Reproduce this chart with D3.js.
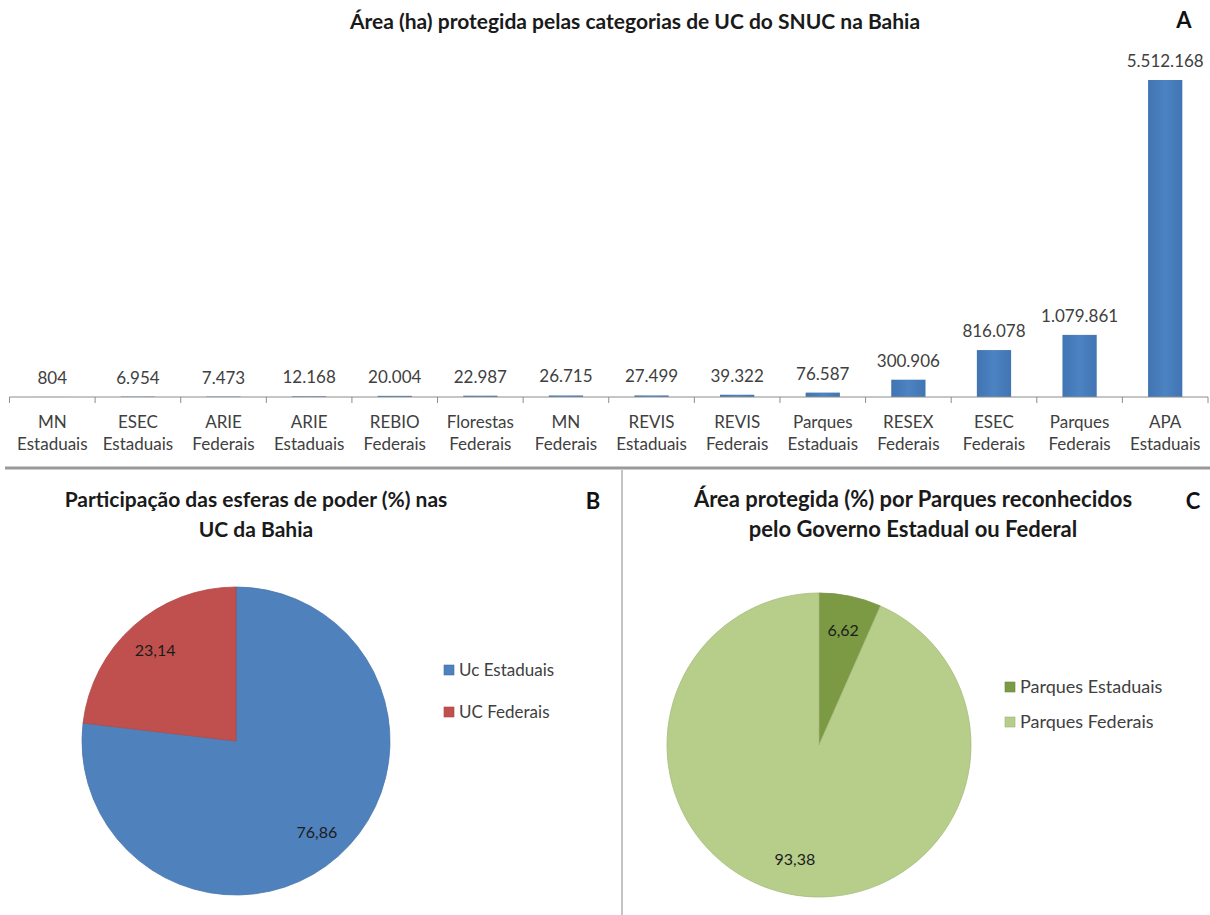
<!DOCTYPE html>
<html>
<head>
<meta charset="utf-8">
<script src="https://cdn.jsdelivr.net/npm/d3@7"></script>
<style>
  body { margin: 0; background: #fff; }
  svg { display: block; }
  text { font-family: Lato, "Open Sans", sans-serif; }
</style>
</head>
<body>
<svg id="chart" width="1210" height="915"></svg>
<script>
// Categorias de UC (sigla + esfera) e área protegida em hectares
const siglas = ["MN", "ESEC", "ARIE", "ARIE", "REBIO", "Florestas", "MN", "REVIS", "REVIS", "Parques", "RESEX", "ESEC", "Parques", "APA"];
const esferas = ["Estaduais", "Estaduais", "Federais", "Estaduais", "Federais", "Federais", "Federais", "Estaduais", "Federais", "Estaduais", "Federais", "Federais", "Federais", "Estaduais"];
const areaHa = [804, 6954, 7473, 12168, 20004, 22987, 26715, 27499, 39322, 76587, 300906, 816078, 1079861, 5512168];

// Participação das esferas de poder (%)
const esferaLabels = ["Uc Estaduais", "UC Federais"];
const esferaPct = [76.86, 23.14];

// Parques estaduais x federais (%)
const parqueLabels = ["Parques Estaduais", "Parques Federais"];
const parquePct = [6.62, 93.38];

const esferaColors = ["#4f81bd", "#c0504d"];
const parqueColors = ["#7b9a43", "#b7ce8b"];

const ptBR = d3.formatLocale({ decimal: ",", thousands: ".", grouping: [3], currency: ["R$", ""] });
const fmtInt = ptBR.format(",d");
const fmtPct = ptBR.format(".2f");

const svg = d3.select("#chart");

// ---------- Painel A: barras ----------
const gA = svg.append("g");
const catIdx = d3.range(areaHa.length);
const x = d3.scaleBand().domain(catIdx).range([9.5, 1208]).padding(0);
const y = d3.scaleLinear().domain([0, d3.max(areaHa)]).range([397, 80]);
const barW = x.bandwidth() * 0.4;

gA.append("text")
  .attr("x", 635).attr("y", 29)
  .attr("text-anchor", "middle")
  .attr("font-size", 21).attr("font-weight", "bold").attr("fill", "#1a1a1a")
  .text("Área (ha) protegida pelas categorias de UC do SNUC na Bahia");

gA.append("text")
  .attr("x", 1184).attr("y", 28)
  .attr("text-anchor", "middle")
  .attr("font-family", "Liberation Sans, Arial, sans-serif")
  .attr("font-size", 22).attr("font-weight", "bold").attr("fill", "#111")
  .text("A");

const grad = svg.append("defs").append("linearGradient")
  .attr("id", "barGrad").attr("x1", 0).attr("x2", 1).attr("y1", 0).attr("y2", 0);
grad.append("stop").attr("offset", "0%").attr("stop-color", "#4174b2");
grad.append("stop").attr("offset", "50%").attr("stop-color", "#4c83c3");
grad.append("stop").attr("offset", "100%").attr("stop-color", "#4174b2");

gA.selectAll("rect.bar").data(areaHa).join("rect")
  .attr("class", "bar")
  .attr("x", (d, i) => x(i) + (x.bandwidth() - barW) / 2)
  .attr("y", d => y(d))
  .attr("width", barW)
  .attr("height", d => y(0) - y(d))
  .attr("fill", "url(#barGrad)");

gA.selectAll("text.val").data(areaHa).join("text")
  .attr("class", "val")
  .attr("x", (d, i) => x(i) + x.bandwidth() / 2)
  .attr("y", d => y(d) - 13)
  .attr("text-anchor", "middle")
  .attr("font-size", 17).attr("fill", "#404040")
  .text(d => fmtInt(d));

// eixo das categorias
const axisG = gA.append("g").attr("transform", `translate(0,${y(0)})`);
axisG.append("line")
  .attr("x1", x.range()[0]).attr("x2", x.range()[1])
  .attr("stroke", "#8c8c8c").attr("stroke-width", 1);
const boundaries = catIdx.map(i => x(i)).concat([x.range()[1]]);
axisG.selectAll("line.tick").data(boundaries).join("line")
  .attr("class", "tick")
  .attr("x1", d => d).attr("x2", d => d)
  .attr("y1", 0).attr("y2", 6)
  .attr("stroke", "#8c8c8c");
const catLabels = axisG.selectAll("text.cat").data(catIdx).join("text")
  .attr("class", "cat")
  .attr("text-anchor", "middle")
  .attr("font-size", 17).attr("fill", "#404040");
catLabels.append("tspan")
  .attr("x", i => x(i) + x.bandwidth() / 2).attr("y", 31)
  .text(i => siglas[i]);
catLabels.append("tspan")
  .attr("x", i => x(i) + x.bandwidth() / 2).attr("y", 53)
  .text(i => esferas[i]);

// separadores dos painéis
svg.append("line")
  .attr("x1", 5).attr("x2", 1210).attr("y1", 468).attr("y2", 468)
  .attr("stroke", "#9a9a9a").attr("stroke-width", 3);
svg.append("line")
  .attr("x1", 622).attr("x2", 622).attr("y1", 470).attr("y2", 915)
  .attr("stroke", "#b0b0b0").attr("stroke-width", 1.5);

// ---------- Painéis B e C: pizzas ----------
function drawPie(opts) {
  const g = svg.append("g");
  const t = g.append("text")
    .attr("text-anchor", "middle")
    .attr("font-size", opts.titleSize).attr("font-weight", "bold").attr("fill", "#1a1a1a");
  opts.title.forEach((line, k) => {
    t.append("tspan").attr("x", opts.titleX).attr("y", 507 + k * 30).text(line);
  });
  g.append("text")
    .attr("x", opts.letterX).attr("y", 509)
    .attr("text-anchor", "middle")
    .attr("font-family", "Liberation Sans, Arial, sans-serif")
    .attr("font-size", 22).attr("font-weight", "bold").attr("fill", "#111")
    .text(opts.letter);

  const pie = d3.pie().sort(null)(opts.values);
  const arc = d3.arc().innerRadius(0).outerRadius(opts.r);
  const labelArc = d3.arc().innerRadius(opts.r * opts.labelK).outerRadius(opts.r * opts.labelK);
  const pg = g.append("g").attr("transform", `translate(${opts.cx},${opts.cy})`);
  pg.selectAll("path").data(pie).join("path")
    .attr("d", arc)
    .attr("fill", (d, i) => opts.colors[i])
    .attr("stroke", (d, i) => d3.color(opts.colors[i]).darker(0.25))
    .attr("stroke-width", 0.8);
  pg.selectAll("text").data(pie).join("text")
    .attr("transform", d => `translate(${labelArc.centroid(d)})`)
    .attr("text-anchor", "middle").attr("dy", "0.35em")
    .attr("font-size", 16).attr("fill", "#1c1c1c")
    .text(d => fmtPct(d.data));

  const lg = g.append("g");
  opts.labels.forEach((lab, i) => {
    const ly = opts.legendY + i * opts.legendStep;
    lg.append("rect")
      .attr("x", opts.legendX).attr("y", ly - 5).attr("width", 10).attr("height", 10)
      .attr("fill", opts.colors[i]).attr("stroke", d3.color(opts.colors[i]).darker(0.4)).attr("stroke-width", 0.6);
    lg.append("text")
      .attr("x", opts.legendX + 15).attr("y", ly).attr("dy", "0.35em")
      .attr("font-size", opts.legendSize).attr("fill", "#404040")
      .text(lab);
  });
}

drawPie({
  title: ["Participação das esferas de poder (%) nas", "UC da Bahia"],
  titleX: 256, titleSize: 21, letter: "B", letterX: 593,
  values: esferaPct, labels: esferaLabels, colors: esferaColors,
  cx: 236, cy: 741, r: 154, labelK: 0.79,
  legendX: 444, legendY: 670, legendStep: 42, legendSize: 17
});

drawPie({
  title: ["Área protegida (%) por Parques reconhecidos", "pelo Governo Estadual ou Federal"],
  titleX: 913, titleSize: 22, letter: "C", letterX: 1193,
  values: parquePct, labels: parqueLabels, colors: parqueColors,
  cx: 819, cy: 745, r: 152, labelK: 0.77,
  legendX: 1005, legendY: 687, legendStep: 35, legendSize: 18
});
</script>
</body>
</html>
